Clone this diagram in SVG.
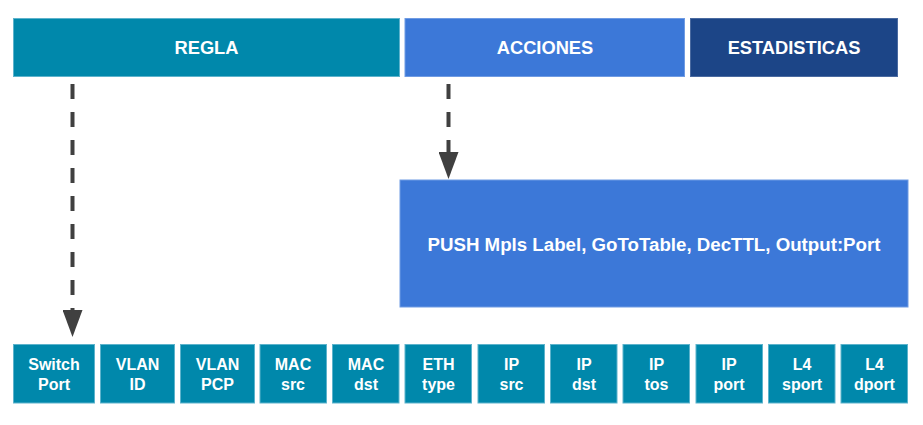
<svg xmlns="http://www.w3.org/2000/svg" width="923" height="425" viewBox="0 0 923 425">
<style>
text{font-family:"Liberation Sans",Arial,sans-serif;font-weight:bold;fill:#ffffff;text-anchor:middle}
.teal{fill:#0088ab;stroke:#5db3cc;stroke-width:1}
.blue{fill:#3c78d8;stroke:#6f9be3;stroke-width:1}
.navy{fill:#1c4587;stroke:#4a6aa0;stroke-width:1}
.hdr{font-size:18.3px}
.fld{font-size:16px}
.conn{stroke:#404040;stroke-width:4;stroke-dasharray:15 13;fill:none}
</style>
<defs>
<marker id="ah" markerUnits="userSpaceOnUse" markerWidth="28" markerHeight="20" refX="0" refY="10" orient="auto" viewBox="0 0 28 20">
<path d="M0,0 L27,10 L0,20 Z" fill="#404040"/>
</marker>
</defs>
<rect width="923" height="425" fill="#ffffff"/>
<g id="regla"><rect class="teal" x="13.5" y="18.5" width="386" height="58"/><text class="hdr" x="206.5" y="54">REGLA</text></g>
<g id="acciones"><rect class="blue" x="405" y="18.5" width="279.5" height="58"/><text class="hdr" x="545" y="54">ACCIONES</text></g>
<g id="estadisticas"><rect class="navy" x="690.5" y="18.5" width="207" height="58"/><text class="hdr" x="794" y="54">ESTADISTICAS</text></g>
<g id="acciones-detalle"><rect class="blue" x="400" y="180" width="508" height="127"/><text x="654" y="251" style="font-size:18.7px">PUSH Mpls Label, GoToTable, DecTTL, Output:Port</text></g>
<g id="switch-port"><rect class="teal" x="13.5" y="344.5" width="81" height="58.5"/><text class="fld" x="54" y="370">Switch</text><text class="fld" x="54" y="390">Port</text></g>
<g id="vlan-id"><rect class="teal" x="100.5" y="344.5" width="74" height="58.5"/><text class="fld" x="137.5" y="370">VLAN</text><text class="fld" x="137.5" y="390">ID</text></g>
<g id="vlan-pcp"><rect class="teal" x="180.5" y="344.5" width="74" height="58.5"/><text class="fld" x="217.5" y="370">VLAN</text><text class="fld" x="217.5" y="390">PCP</text></g>
<g id="mac-src"><rect class="teal" x="260" y="344.5" width="66.5" height="58.5"/><text class="fld" x="293" y="370">MAC</text><text class="fld" x="293" y="390">src</text></g>
<g id="mac-dst"><rect class="teal" x="332.5" y="344.5" width="66.5" height="58.5"/><text class="fld" x="366" y="370">MAC</text><text class="fld" x="366" y="390">dst</text></g>
<g id="eth-type"><rect class="teal" x="405" y="344.5" width="66.5" height="58.5"/><text class="fld" x="438.5" y="370">ETH</text><text class="fld" x="438.5" y="390">type</text></g>
<g id="ip-src"><rect class="teal" x="478" y="344.5" width="66.5" height="58.5"/><text class="fld" x="511.5" y="370">IP</text><text class="fld" x="511.5" y="390">src</text></g>
<g id="ip-dst"><rect class="teal" x="550.5" y="344.5" width="66.5" height="58.5"/><text class="fld" x="584" y="370">IP</text><text class="fld" x="584" y="390">dst</text></g>
<g id="ip-tos"><rect class="teal" x="623" y="344.5" width="66.5" height="58.5"/><text class="fld" x="656.5" y="370">IP</text><text class="fld" x="656.5" y="390">tos</text></g>
<g id="ip-port"><rect class="teal" x="696" y="344.5" width="66.5" height="58.5"/><text class="fld" x="729" y="370">IP</text><text class="fld" x="729" y="390">port</text></g>
<g id="l4-sport"><rect class="teal" x="768.5" y="344.5" width="66.5" height="58.5"/><text class="fld" x="802" y="370">L4</text><text class="fld" x="802" y="390">sport</text></g>
<g id="l4-dport"><rect class="teal" x="841" y="344.5" width="66.5" height="58.5"/><text class="fld" x="874.5" y="370">L4</text><text class="fld" x="874.5" y="390">dport</text></g>
<g id="connectors">
<line class="conn" x1="72.5" y1="84" x2="72.5" y2="310" marker-end="url(#ah)"/>
<line class="conn" x1="448.5" y1="84" x2="448.5" y2="152" marker-end="url(#ah)"/>
</g>
</svg>
